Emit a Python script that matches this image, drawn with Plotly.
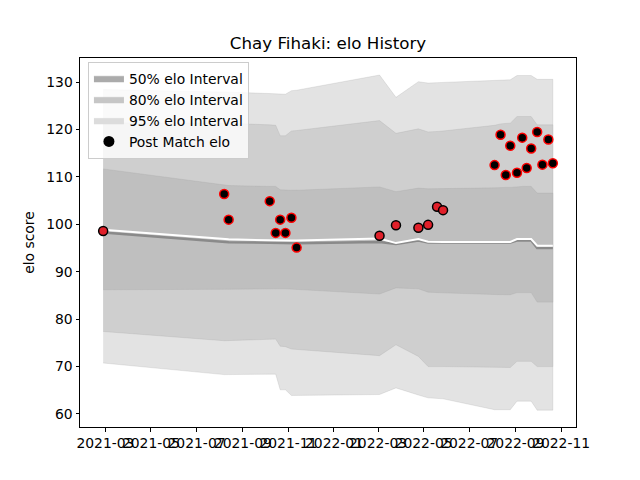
import plotly.graph_objects as go

# ---- data ----
match_dates = ["2021-02-26", "2021-08-07", "2021-08-13", "2021-10-07", "2021-10-15",
               "2021-10-21", "2021-10-28", "2021-11-05", "2021-11-12", "2022-03-03",
               "2022-03-25", "2022-04-24", "2022-05-07", "2022-05-19", "2022-05-27",
               "2022-08-04", "2022-08-12", "2022-08-19", "2022-08-25", "2022-09-03",
               "2022-09-10", "2022-09-16", "2022-09-22", "2022-09-30", "2022-10-07",
               "2022-10-15", "2022-10-21"]

post_match_elo = [98.6, 106.4, 101.0, 104.9, 98.2, 101.0, 98.2, 101.4, 95.1, 97.6,
                  99.8, 99.3, 99.9, 103.7, 103.0, 112.5, 118.9, 110.4, 116.6, 110.9,
                  118.3, 111.9, 116.0, 119.5, 112.6, 117.9, 112.9]

# 1 = red fill / black edge, 0 = black fill / red edge
outcome = [1, 0, 0, 0, 0, 0, 0, 0, 0, 1, 1, 1, 1, 1, 1, 0, 0, 0, 0, 0, 0, 0, 0, 0, 0, 0, 0]

lower_50 = [86.2, 86.3, 86.3, 86.4, 86.4, 86.4, 86.4, 86.4, 86.4, 85.3, 86.6, 86.4, 85.7,
            85.6, 85.55, 85.2, 85.15, 85.15, 85.15, 85.6, 85.6, 85.6, 85.6, 83.6, 83.6, 83.6, 83.6]
upper_50 = [111.7, 108.3, 108.2, 108.0, 108.0, 107.3, 107.2, 107.2, 107.2, 107.9, 106.9, 107.65,
            107.5, 107.55, 107.55, 107.7, 107.8, 107.8, 107.8, 108.0, 108.0, 108.0, 108.0, 106.6,
            106.6, 106.6, 106.6]
lower_80 = [77.4, 75.45, 75.5, 75.75, 75.8, 74.3, 74.2, 73.7, 73.65, 72.3, 74.6, 72.15, 70.0,
            70.0, 70.0, 69.85, 69.8, 69.8, 69.8, 71.1, 71.1, 71.1, 71.1, 70.0, 70.0, 70.0, 70.0]
upper_80 = [121.4, 121.3, 121.3, 121.0, 120.9, 118.7, 118.7, 119.7, 119.8, 121.9, 119.2, 120.15,
            119.5, 119.6, 119.7, 120.9, 121.2, 121.3, 121.35, 122.75, 122.75, 122.75, 122.75,
            121.0, 121.0, 121.0, 121.0]
lower_95 = [70.75, 68.3, 68.3, 68.4, 68.4, 65.1, 65.1, 63.9, 63.9, 64.1, 65.5, 64.0, 63.4,
            63.3, 63.2, 60.9, 60.9, 60.9, 60.9, 62.7, 62.7, 62.7, 62.7, 60.8, 60.8, 60.8, 60.8]
upper_95 = [128.45, 127.95, 127.9, 127.6, 127.55, 127.6, 127.45, 128.2, 128.3, 131.5, 126.8,
            130.1, 129.8, 129.9, 129.95, 130.35, 130.4, 130.45, 130.5, 131.4, 131.4, 131.4,
            131.4, 130.6, 130.6, 130.6, 130.6]

elo_mean = [98.3, 96.3, 96.25, 96.1, 96.05, 96.0, 96.0, 96.0, 96.0, 96.3, 95.85, 96.6, 96.2,
            96.2, 96.2, 96.2, 96.2, 96.2, 96.2, 96.6, 96.6, 96.6, 96.6, 95.0, 95.0, 95.0, 95.0]
elo_median = [98.85, 96.9, 96.85, 96.65, 96.6, 96.6, 96.6, 96.6, 96.6, 97.0, 96.05, 96.9, 96.35,
              96.3, 96.3, 96.3, 96.3, 96.3, 96.3, 96.9, 96.9, 96.9, 96.9, 95.5, 95.5, 95.5, 95.5]

band_names = ["50% elo Interval", "80% elo Interval", "95% elo Interval"]

x_ticks_start = "2021-03-01"
x_range = ["2021-01-26", "2022-11-21"]
y_range = [57.25, 135.1]

FONT = "DejaVu Sans"
fig = go.Figure()


def band(lo, hi, color):
    fig.add_trace(go.Scatter(
        x=match_dates + match_dates[::-1],
        y=hi + lo[::-1],
        fill="toself", fillcolor=color, mode="lines",
        line=dict(color="rgba(150,150,150,0.25)", width=0.8),
        showlegend=False, hoverinfo="skip"))


band(lower_95, upper_95, "#e3e3e3")
band(lower_80, upper_80, "#cfcfcf")
band(lower_50, upper_50, "#bfbfbf")

fig.add_trace(go.Scatter(x=match_dates, y=elo_mean, mode="lines",
                         line=dict(color="#8a8a8a", width=2.5), showlegend=False))
fig.add_trace(go.Scatter(x=match_dates, y=elo_median, mode="lines",
                         line=dict(color="white", width=2), showlegend=False))

fill_cols = ["#e0202a" if o else "black" for o in outcome]
edge_cols = ["black" if o else "#ff0000" for o in outcome]
fig.add_trace(go.Scatter(x=match_dates, y=post_match_elo, mode="markers",
                         marker=dict(size=9, color=fill_cols,
                                     line=dict(color=edge_cols, width=1.5)),
                         showlegend=False))

# legend entries (swatches as in the reference legend)
for name, col in zip(band_names, ["#ababab", "#c6c6c6", "#dcdcdc"]):
    fig.add_trace(go.Scatter(x=[None, None, None], y=[None, None, None], fill="toself",
                             fillcolor=col, mode="lines", line=dict(color=col, width=0.5),
                             name=name))
fig.add_trace(go.Scatter(x=[None], y=[None], mode="markers",
                         marker=dict(size=11, color="black"),
                         name="Post Match elo"))

# the page adds an 8 px body margin, so the figure margins compensate for it
fig.update_layout(
    width=640, height=480,
    margin=dict(l=72, r=72, t=49.6, b=60.8),
    paper_bgcolor="white", plot_bgcolor="white",
    font=dict(family=FONT, size=13.9, color="black"),
    title=dict(text="Chay Fihaki: elo History", x=0.5, xref="paper", xanchor="center",
               y=1 - 35 / 480, yref="container", yanchor="middle",
               font=dict(size=16.7, color="black")),
    legend=dict(x=0.016, y=0.99, xanchor="left", yanchor="top",
                bgcolor="rgba(255,255,255,0.8)", bordercolor="#cccccc", borderwidth=1,
                font=dict(size=13.9), tracegroupgap=0),
    xaxis=dict(type="date", range=x_range, tick0=x_ticks_start, dtick="M2",
               tickformat="%Y-%m", tickangle=0, showgrid=False, zeroline=False,
               automargin=False,
               showline=True, mirror=True, linecolor="black", linewidth=1,
               ticks="outside", ticklen=3.5, tickwidth=0.8, tickcolor="black",
               tickfont=dict(size=13.9)),
    yaxis=dict(range=y_range, dtick=10, tick0=0, showgrid=False, zeroline=False,
               automargin=False,
               showline=True, mirror=True, linecolor="black", linewidth=1,
               ticks="outside", ticklen=3.5, tickwidth=0.8, tickcolor="black",
               tickfont=dict(size=13.9),
               title=dict(text="elo score", standoff=8, font=dict(size=13.9))),
)

fig.write_html("out.html")
